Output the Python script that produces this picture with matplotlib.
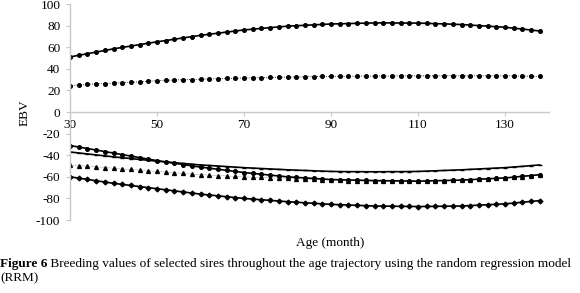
import numpy as np
import matplotlib
matplotlib.use("Agg")
import matplotlib.pyplot as plt

# breeding values (EBV) of six sires, every 2 months
age = list(range(30, 140, 2))

sire_a = [51.0, 52.5, 54.0, 55.5, 57.0, 58.5, 59.8, 61.1, 62.4, 63.7, 65.0,
          66.2, 67.4, 68.6, 69.8, 71.0, 72.0, 73.0, 74.0, 75.0, 76.0,
          76.7, 77.4, 78.1, 78.8, 79.5, 79.9, 80.3, 80.7, 81.1, 81.5,
          81.7, 81.9, 82.1, 82.3, 82.5, 82.5, 82.5, 82.4, 82.4, 82.3,
          82.1, 81.8, 81.6, 81.3, 81.0, 80.5, 80.0, 79.5, 79.0, 78.5,
          77.6, 76.8, 75.9, 75.0]
sire_b = [24.5, 25.0, 25.5, 26.0, 26.4, 26.8, 27.2, 27.6, 28.0, 28.5, 29.0,
          29.3, 29.6, 29.9, 30.1, 30.4, 30.6, 30.9, 31.1, 31.3, 31.5,
          31.7, 31.9, 32.0, 32.2, 32.3, 32.5, 32.6, 32.8, 32.9, 33.0,
          33.1, 33.1, 33.2, 33.3, 33.3, 33.4, 33.4, 33.5, 33.5, 33.5,
          33.5, 33.5, 33.5, 33.5, 33.5, 33.5, 33.5, 33.5, 33.5, 33.5,
          33.4, 33.3, 33.1, 33.0]
sire_c = [-31.0, -32.4, -33.8, -35.2, -36.6, -38.0, -39.4, -40.8, -42.2, -43.6, -45.0,
          -46.2, -47.4, -48.6, -49.8, -51.0, -52.0, -53.0, -54.0, -55.0, -56.0,
          -56.8, -57.6, -58.4, -59.2, -60.0, -60.5, -61.0, -61.5, -62.0, -62.5,
          -62.7, -62.9, -63.1, -63.3, -63.5, -63.6, -63.7, -63.8, -63.9, -64.0,
          -63.8, -63.6, -63.4, -63.2, -63.0, -62.6, -62.2, -61.8, -61.4, -61.0,
          -60.3, -59.5, -58.8, -58.0]
sire_d = [-37.0, -37.9, -38.8, -39.7, -40.6, -41.5, -42.3, -43.1, -43.9, -44.7, -45.5,
          -46.2, -46.9, -47.6, -48.3, -49.0, -49.5, -50.0, -50.5, -51.0, -51.5,
          -51.9, -52.3, -52.7, -53.1, -53.5, -53.8, -54.1, -54.4, -54.7, -55.0,
          -55.1, -55.2, -55.2, -55.3, -55.3, -55.3, -55.2, -55.2, -55.1, -55.0,
          -54.7, -54.4, -54.1, -53.8, -53.5, -53.1, -52.7, -52.3, -51.9, -51.5,
          -50.9, -50.3, -49.6, -49.0]
sire_e = [-49.0, -49.6, -50.2, -50.8, -51.4, -52.0, -52.6, -53.2, -53.8, -54.4, -55.0,
          -55.6, -56.2, -56.8, -57.4, -58.0, -58.4, -58.8, -59.2, -59.6, -60.0,
          -60.3, -60.6, -60.9, -61.2, -61.5, -61.8, -62.1, -62.4, -62.7, -63.0,
          -63.2, -63.4, -63.6, -63.8, -64.0, -64.0, -64.0, -64.0, -64.0, -64.0,
          -63.8, -63.6, -63.4, -63.2, -63.0, -62.6, -62.2, -61.8, -61.4, -61.0,
          -60.4, -59.8, -59.1, -58.5]
sire_f = [-60.0, -61.2, -62.4, -63.6, -64.8, -66.0, -67.0, -68.0, -69.0, -70.0, -71.0,
          -72.0, -73.0, -74.0, -75.0, -76.0, -76.8, -77.6, -78.4, -79.2, -80.0,
          -80.6, -81.2, -81.8, -82.4, -83.0, -83.5, -84.0, -84.5, -85.0, -85.5,
          -85.8, -86.1, -86.4, -86.7, -87.0, -87.1, -87.2, -87.3, -87.4, -87.5,
          -87.4, -87.3, -87.2, -87.1, -87.0, -86.6, -86.2, -85.8, -85.4, -85.0,
          -84.3, -83.5, -82.8, -82.0]

xticks = [30, 50, 70, 90, 110, 130]
yticks = [-100, -80, -60, -40, -20, 0, 20, 40, 60, 80, 100]

plt.rcParams['font.family'] = ['Liberation Serif', 'DejaVu Serif']

fig = plt.figure(figsize=(5.8, 2.93), dpi=100)
ax = fig.add_axes([0.1207, 0.249, 0.8250, 0.7373])

# the six sires, all drawn in black
ax.plot(age, sire_a, color='black', lw=1.2, marker='o', ms=2.6)
ax.plot(age, sire_b, color='black', lw=0.6, ls=':', marker='o', ms=2.6)
ax.plot(age, sire_c, color='black', lw=1.2, marker='o', ms=2.6)
ax.plot(age, sire_d, color='black', lw=1.2, marker='_', ms=3)
ax.plot(age, sire_e, color='black', lw=0.3, ls=':', marker='^', ms=2.8)
ax.plot(age, sire_f, color='black', lw=1.2, marker='D', ms=2.4)

ax.set_xlim(30, 140)
ax.set_ylim(-100, 100)
ax.set_xticks(xticks)
ax.set_yticks(yticks)
ax.set_yticklabels([str(v) for v in yticks])

# x axis runs through zero, like the original Excel chart
ax.spines['bottom'].set_position(('data', 0))
ax.spines['top'].set_visible(False)
ax.spines['right'].set_visible(False)
for s in ['left', 'bottom']:
    ax.spines[s].set_color('#c8c8c8')
    ax.spines[s].set_linewidth(1.0)
ax.tick_params(axis='both', colors='#c8c8c8', labelcolor='black',
               labelsize=9.5, length=3, width=0.8, direction='out', pad=4)
ax.tick_params(axis='x', pad=2)

fig.text(0.043, 0.617, 'EBV', rotation=90, ha='center', va='center', fontsize=9.5)
fig.text(0.569, 0.171, 'Age (month)', ha='center', va='center', fontsize=9.5)

# caption: bold "Figure 6" followed by regular text
cap_size = 9.5
t1 = fig.text(0.0, 0.10, 'Figure 6', fontsize=cap_size, fontweight='bold', va='center')
fig.canvas.draw()
bb = t1.get_window_extent()
x_next = bb.x1 / fig.bbox.width
fig.text(x_next, 0.10,
         ' Breeding values of selected sires throughout the age trajectory using the random regression model',
         fontsize=cap_size, va='center')
fig.text(0.0, 0.05, '(RRM)', fontsize=cap_size, va='center')

plt.savefig('out.png', dpi=100)
